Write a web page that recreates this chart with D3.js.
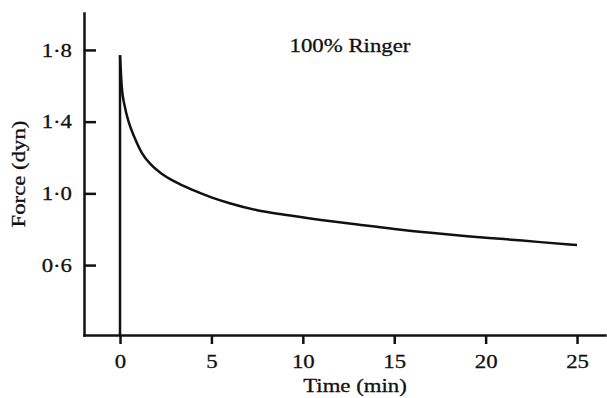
<html>
  <head>
    <meta charset="utf-8" />
    <title>Force decay</title>
    <script src="https://d3js.org/d3.v7.min.js"></script>
    <style>

      body {
        margin: 0;
        background: #fff;
      }

      text {
        font-family: "Liberation Serif", "Times New Roman", serif;
        fill: #111;
        stroke: #111;
        stroke-width: 0.3;
      }

      .axis path,
      .axis line {
        stroke: #111;
        stroke-width: 2.5;
      }

      .trace {
        fill: none;
        stroke: #111;
        stroke-width: 2.5;
      }

    </style>
  </head>
  <body>

    <svg id="chart">
      <g id="x" class="axis"></g>
      <g id="y" class="axis"></g>
      <g id="shapes"></g>
      <g id="labels"></g>
    </svg>

    <script>

      // time (min) and force (dyn)
      var times = [0, 0.1, 0.25, 0.5, 0.8, 1.2, 1.7, 2.3, 3.0, 4.0, 5.0, 6.0, 7.5, 9.0, 11.0, 13.0, 15.0, 17.0, 19.0, 21.0, 23.0, 25.0];
      var forces = [1.77, 1.59, 1.49, 1.39, 1.31, 1.225, 1.16, 1.108, 1.065, 1.018, 0.978, 0.945, 0.906, 0.881, 0.852, 0.826, 0.801, 0.78, 0.761, 0.745, 0.728, 0.712];

      var xTicks = [0, 5, 10, 15, 20, 25];
      var yTicks = [0.6, 1.0, 1.4, 1.8];
      var title = "100% Ringer";
      var xLabel = "Time (min)";
      var yLabel = "Force (dyn)";

      var width = 607;
      var height = 398;
      var margin = {
        top: 13,
        right: 2,
        bottom: 63,
        left: 84
      };
      var fontSize = 19;
      var stretch = "scale(1.2,1)"; // old typeface is wider than Times

      var svg = d3.select("#chart")
        .attr("width", width)
        .attr("height", height);

      var x = d3.scaleLinear()
        .domain([-1.97, 26.53])
        .range([margin.left, width - margin.right]);

      var y = d3.scaleLinear()
        .domain([0.21, 2.006])
        .range([height - margin.bottom, margin.top]);

      function dotFormat(d) {
        return d3.format(".1f")(d).replace(".", "\u00b7");
      }

      var xAxis = d3.axisBottom(x)
        .tickValues(xTicks)
        .tickFormat(d3.format("d"))
        .tickSize(9)
        .tickPadding(11)
        .tickSizeOuter(0);

      var yAxis = d3.axisLeft(y)
        .tickValues(yTicks)
        .tickFormat(dotFormat)
        .tickSize(-12)
        .tickPadding(10)
        .tickSizeOuter(0);

      svg.select("#x")
        .attr("transform", "translate(0, " + (height - margin.bottom) + ")")
        .call(xAxis);

      svg.select("#y")
        .attr("transform", "translate(" + margin.left + ", 0)")
        .call(yAxis);

      svg.selectAll(".axis text")
        .attr("font-size", fontSize)
        .attr("font-family", null)
        .attr("transform", stretch);

      svg.selectAll(".axis .domain")
        .attr("stroke-linecap", "square");

      var data = times.map(function(t, i) {
        return { t: t, f: forces[i] };
      });

      var line = d3.line()
        .x(function(d) { return x(d.t); })
        .y(function(d) { return y(d.f); });

      // rise at stimulus onset, from the baseline to the peak
      svg.select("#shapes").append("path")
        .attr("class", "trace")
        .attr("stroke-width", 2)
        .attr("d", line([{ t: 0, f: y.domain()[0] }, data[0]]));

      // relaxation
      svg.select("#shapes").append("path")
        .attr("class", "trace")
        .attr("d", line.curve(d3.curveMonotoneX)(data));

      var labels = svg.select("#labels");

      labels.append("text")
        .attr("text-anchor", "middle")
        .attr("font-size", fontSize)
        .attr("transform", "translate(350, 52) " + stretch)
        .text(title);

      labels.append("text")
        .attr("text-anchor", "middle")
        .attr("font-size", fontSize)
        .attr("transform", "translate(355, 392) " + stretch)
        .text(xLabel);

      labels.append("text")
        .attr("text-anchor", "middle")
        .attr("font-size", fontSize)
        .attr("transform", "translate(25, 174) rotate(-90) " + stretch)
        .text(yLabel);

    </script>
  </body>
</html>
